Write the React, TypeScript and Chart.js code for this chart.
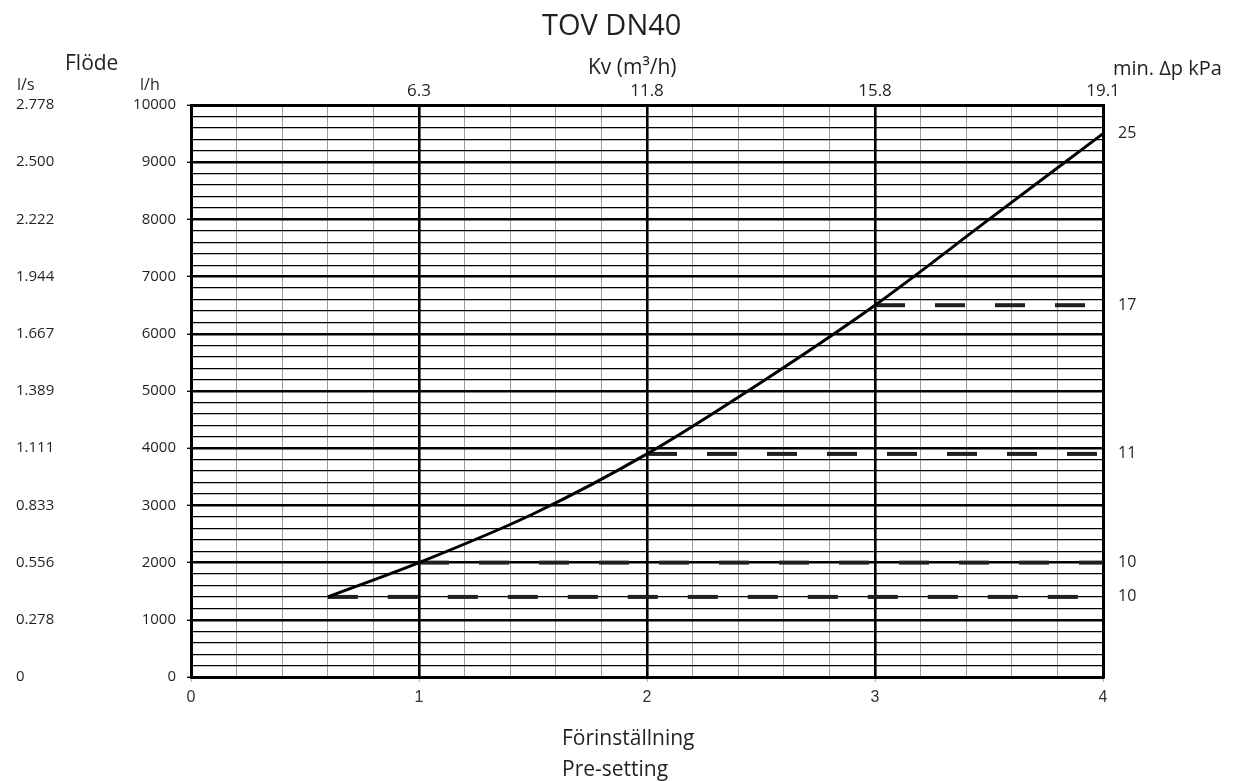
import React, { useEffect, useRef } from "react";
import { Chart, registerables } from "chart.js";

Chart.register(...registerables);

// Curve: pre-setting vs flow (l/h)
const presetting = [0.6, 1, 1.5, 2, 2.5, 3, 3.5, 4];
const flowLh = [1400, 2000, 2850, 3900, 5150, 6500, 8000, 9500];

// Dashed min. Δp lines
const dpStartX = [0.6, 1, 2, 3];
const dpFlow = [1400, 2000, 3900, 6500];
const dpEndX = 4;

// Axis tick labels
const xTickLabels = ["0", "1", "2", "3", "4"];
const kvPositions = [1, 2, 3, 4];
const kvLabels = ["6.3", "11.8", "15.8", "19.1"];
const lsValues = [0, 1000, 2000, 3000, 4000, 5000, 6000, 7000, 8000, 9000, 10000];
const lsLabels = ["0", "0.278", "0.556", "0.833", "1.111", "1.389", "1.667", "1.944", "2.222", "2.500", "2.778"];
const dpLabelValues = [1400, 2000, 3900, 6500, 9500];
const dpLabels = ["10", "10", "11", "17", "25"];

const TEXT = "#231f20";
const SANS = "'Open Sans', 'Noto Sans', sans-serif";

const isInt = (v: number) => Math.abs(v - Math.round(v)) < 1e-6;
const isThousand = (v: number) => Math.abs(v / 1000 - Math.round(v / 1000)) < 1e-6;

const textPlugin = {
  id: "headerTexts",
  afterDraw(chart: any) {
    const ctx = chart.ctx;
    ctx.save();
    ctx.fillStyle = TEXT;
    ctx.textBaseline = "alphabetic";
    ctx.textAlign = "left";
    ctx.font = `29px ${SANS}`;
    ctx.fillText("TOV DN40", 542, 35);
    ctx.font = `21px ${SANS}`;
    ctx.fillText("Flöde", 65, 70);
    ctx.fillText("Kv (m³/h)", 588, 74);
    ctx.fillText("Förinställning", 562, 745);
    ctx.fillText("Pre-setting", 562, 776);
    ctx.font = `16px ${SANS}`;
    ctx.fillText("l/s", 17, 90);
    ctx.fillText("l/h", 140, 90);
    ctx.font = `20px ${SANS}`;
    ctx.fillText("min. Δp kPa", 1113, 75);
    ctx.restore();
  },
};

export default function App() {
  const ref = useRef<HTMLCanvasElement | null>(null);

  useEffect(() => {
    if (!ref.current) return;
    const datasets: any[] = [
      {
        data: presetting.map((x, i) => ({ x, y: flowLh[i] })),
        borderColor: "#000",
        borderWidth: 3,
        pointRadius: 0,
        cubicInterpolationMode: "monotone",
        xAxisID: "x",
        yAxisID: "y",
        order: 0,
      },
      ...dpStartX.map((sx, i) => ({
        data: [
          { x: sx, y: dpFlow[i] },
          { x: dpEndX, y: dpFlow[i] },
        ],
        borderColor: "#231f20",
        borderWidth: 4,
        borderDash: [30, 30],
        borderCapStyle: "butt",
        pointRadius: 0,
        xAxisID: "x",
        yAxisID: "y",
        order: 1,
      })),
    ];

    const chart = new Chart(ref.current, {
      type: "line",
      data: { datasets },
      plugins: [textPlugin],
      options: {
        animation: false,
        responsive: true,
        maintainAspectRatio: false,
        events: [],
        layout: { padding: { left: 16, right: 0, top: 0, bottom: 0 } },
        plugins: { legend: { display: false }, tooltip: { enabled: false }, title: { display: false } },
        scales: {
          x: {
            type: "linear",
            position: "bottom",
            min: 0,
            max: 4,
            afterFit: (s: any) => {
              s.height = 104;
            },
            ticks: {
              stepSize: 0.2,
              autoSkip: false,
              maxRotation: 0,
              padding: 6,
              color: "#333",
              font: { family: "'Liberation Sans', Arial, sans-serif", size: 16 },
              callback: (v: any) => (isInt(Number(v)) ? xTickLabels[Math.round(Number(v))] : ""),
            },
            grid: {
              color: (c: any) => (isInt(c.tick.value) ? "#000" : "#9c9c9c"),
              lineWidth: (c: any) => (isInt(c.tick.value) ? 2.6 : 1),
              tickColor: (c: any) => (isInt(c.tick.value) ? "#aaa" : "rgba(0,0,0,0)"),
              tickWidth: 1,
              tickLength: 5,
            },
            border: { display: true, color: "#000", width: 3 },
          },
          x2: {
            type: "linear",
            position: "top",
            min: 0,
            max: 4,
            afterFit: (s: any) => {
              s.height = 105;
            },
            afterBuildTicks: (s: any) => {
              s.ticks = kvPositions.map((v) => ({ value: v }));
            },
            ticks: {
              autoSkip: false,
              maxRotation: 0,
              align: "center",
              padding: 4,
              color: TEXT,
              font: { family: SANS, size: 17 },
              callback: (_v: any, i: number) => kvLabels[i],
            },
            grid: { display: false, drawTicks: false },
            border: { display: true, color: "#000", width: 3 },
          },
          y: {
            type: "linear",
            position: "left",
            weight: 0,
            min: 0,
            max: 10000,
            afterFit: (s: any) => {
              s.width = 60;
            },
            ticks: {
              stepSize: 200,
              autoSkip: false,
              padding: 11,
              color: TEXT,
              font: { family: SANS, size: 15 },
              callback: (v: any) => (isThousand(Number(v)) ? String(v) : ""),
            },
            grid: {
              color: "#000",
              lineWidth: (c: any) => (isThousand(c.tick.value) ? 2.6 : 1.2),
              tickColor: (c: any) => (isThousand(c.tick.value) ? "#000" : "rgba(0,0,0,0)"),
              tickWidth: 1.3,
              tickLength: 4,
            },
            border: { display: true, color: "#000", width: 3 },
          },
          yls: {
            type: "linear",
            position: "left",
            weight: 1,
            min: 0,
            max: 10000,
            afterFit: (s: any) => {
              s.width = 115;
            },
            afterBuildTicks: (s: any) => {
              s.ticks = lsValues.map((v) => ({ value: v }));
            },
            ticks: {
              autoSkip: false,
              crossAlign: "far",
              padding: 0,
              color: TEXT,
              font: { family: SANS, size: 15 },
              callback: (_v: any, i: number) => lsLabels[i],
            },
            grid: { display: false, drawTicks: false },
            border: { display: false },
          },
          yr: {
            type: "linear",
            position: "right",
            min: 0,
            max: 10000,
            afterFit: (s: any) => {
              s.width = 134;
            },
            afterBuildTicks: (s: any) => {
              s.ticks = dpLabelValues.map((v) => ({ value: v }));
            },
            ticks: {
              autoSkip: false,
              padding: 15,
              color: TEXT,
              font: { family: SANS, size: 16 },
              callback: (_v: any, i: number) => dpLabels[i],
            },
            grid: { display: false, drawTicks: false },
            border: { display: true, color: "#000", width: 3 },
          },
        },
      } as any,
    });
    return () => chart.destroy();
  }, []);

  return (
    <div style={{ position: "absolute", left: 0, top: 0, width: 1237, height: 781, background: "#fff" }}>
      <canvas ref={ref} />
    </div>
  );
}
